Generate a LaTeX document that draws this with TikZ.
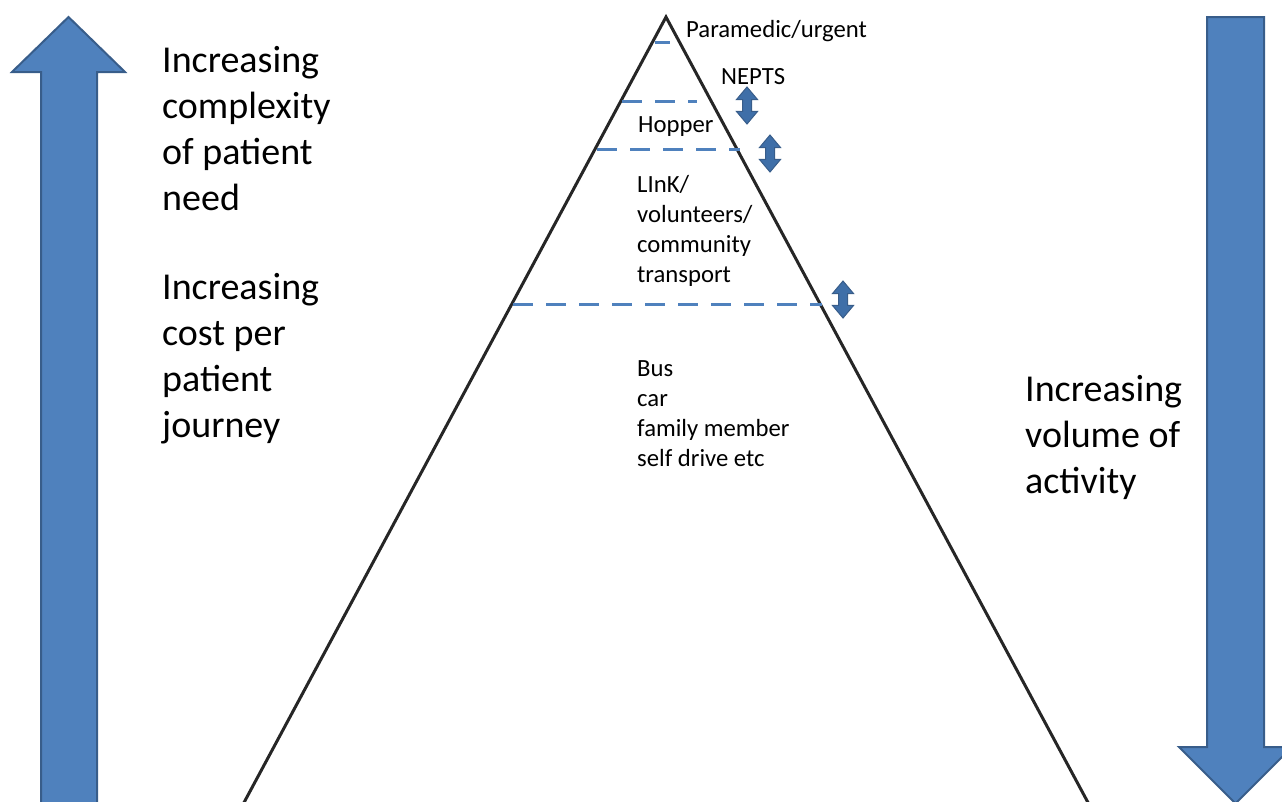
\documentclass[tikz,border=0pt]{standalone}
\usepackage{fontspec}
\setmainfont{Carlito}
\usetikzlibrary{shapes.arrows}
\definecolor{oblue}{HTML}{4F81BD}
\definecolor{oborder}{HTML}{385D8A}
\definecolor{sblue}{HTML}{3F6FA8}
\definecolor{pline}{HTML}{262626}
\tikzset{
  bigtext/.style={anchor=base west, inner sep=0pt, align=left, font=\fontsize{38}{46}\selectfont},
  smalltext/.style={anchor=base west, inner sep=0pt, align=left, font=\fontsize{24.7}{30}\selectfont},
  bigarrow/.style={fill=oblue, draw=oborder, line width=2pt, line join=miter},
  pyramid/.style={draw=pline, line width=3pt, line join=miter},
  tierline/.style={draw=oblue, line width=3pt, dash pattern=on 20pt off 13pt},
  dbl/.style={shape=double arrow, shape border rotate=90, fill=sblue, draw=oborder, line width=1pt,
    inner sep=4pt, double arrow head extend=6pt, minimum height=37pt, double arrow tip angle=80}
}
\begin{document}
\begin{tikzpicture}[x=1pt, y=-1pt]
\useasboundingbox (0,0) rectangle (1282,801);
\clip (0,0) rectangle (1282,801);
% big arrows
\draw[bigarrow] (68.5,17) -- (125,72) -- (97,72) -- (97,810) -- (41,810) -- (41,72) -- (12,72) -- cycle;
\draw[bigarrow] (1207,17) -- (1264,17) -- (1264,747) -- (1292,747) -- (1235.5,803.5) -- (1179,747) -- (1207,747) -- cycle;
% pyramid
\coordinate (apex) at (666,17);
\coordinate (bl) at (241.6,807);
\coordinate (br) at (1090.4,807);
\draw[pyramid] (bl) -- (apex) -- (br);
% tier lines
\draw[tierline] (655,42) -- (670,42);
\draw[tierline] (622,101) -- (697,101);
\draw[tierline] (597,149) -- (740,149);
\draw[tierline] (513,304) -- (822,304);
% small double arrows
\node[dbl] (d1) at (747,105.5) {};
\node[dbl] (d2) at (770,153.5) {};
\node[dbl] (d3) at (843,299.5) {};
% texts (base anchor = last line's baseline)
\node[bigtext] (t1) at (162,210) {Increasing\\complexity\\of patient\\need};
\node[bigtext] (t2) at (162,437) {Increasing\\cost per\\patient\\journey};
\node[bigtext] (t3) at (1025,493) {Increasing\\volume of\\activity};
\node[smalltext] (s1) at (686,37) {Paramedic/urgent};
\node[smalltext] (s2) at (721,84) {NEPTS};
\node[smalltext] (s3) at (638,132) {Hopper};
\node[smalltext] (s4) at (637,282) {LInK/\\volunteers/\\community\\transport};
\node[smalltext] (s5) at (637,466) {Bus\\car\\family member\\self drive etc};
\end{tikzpicture}
\end{document}
